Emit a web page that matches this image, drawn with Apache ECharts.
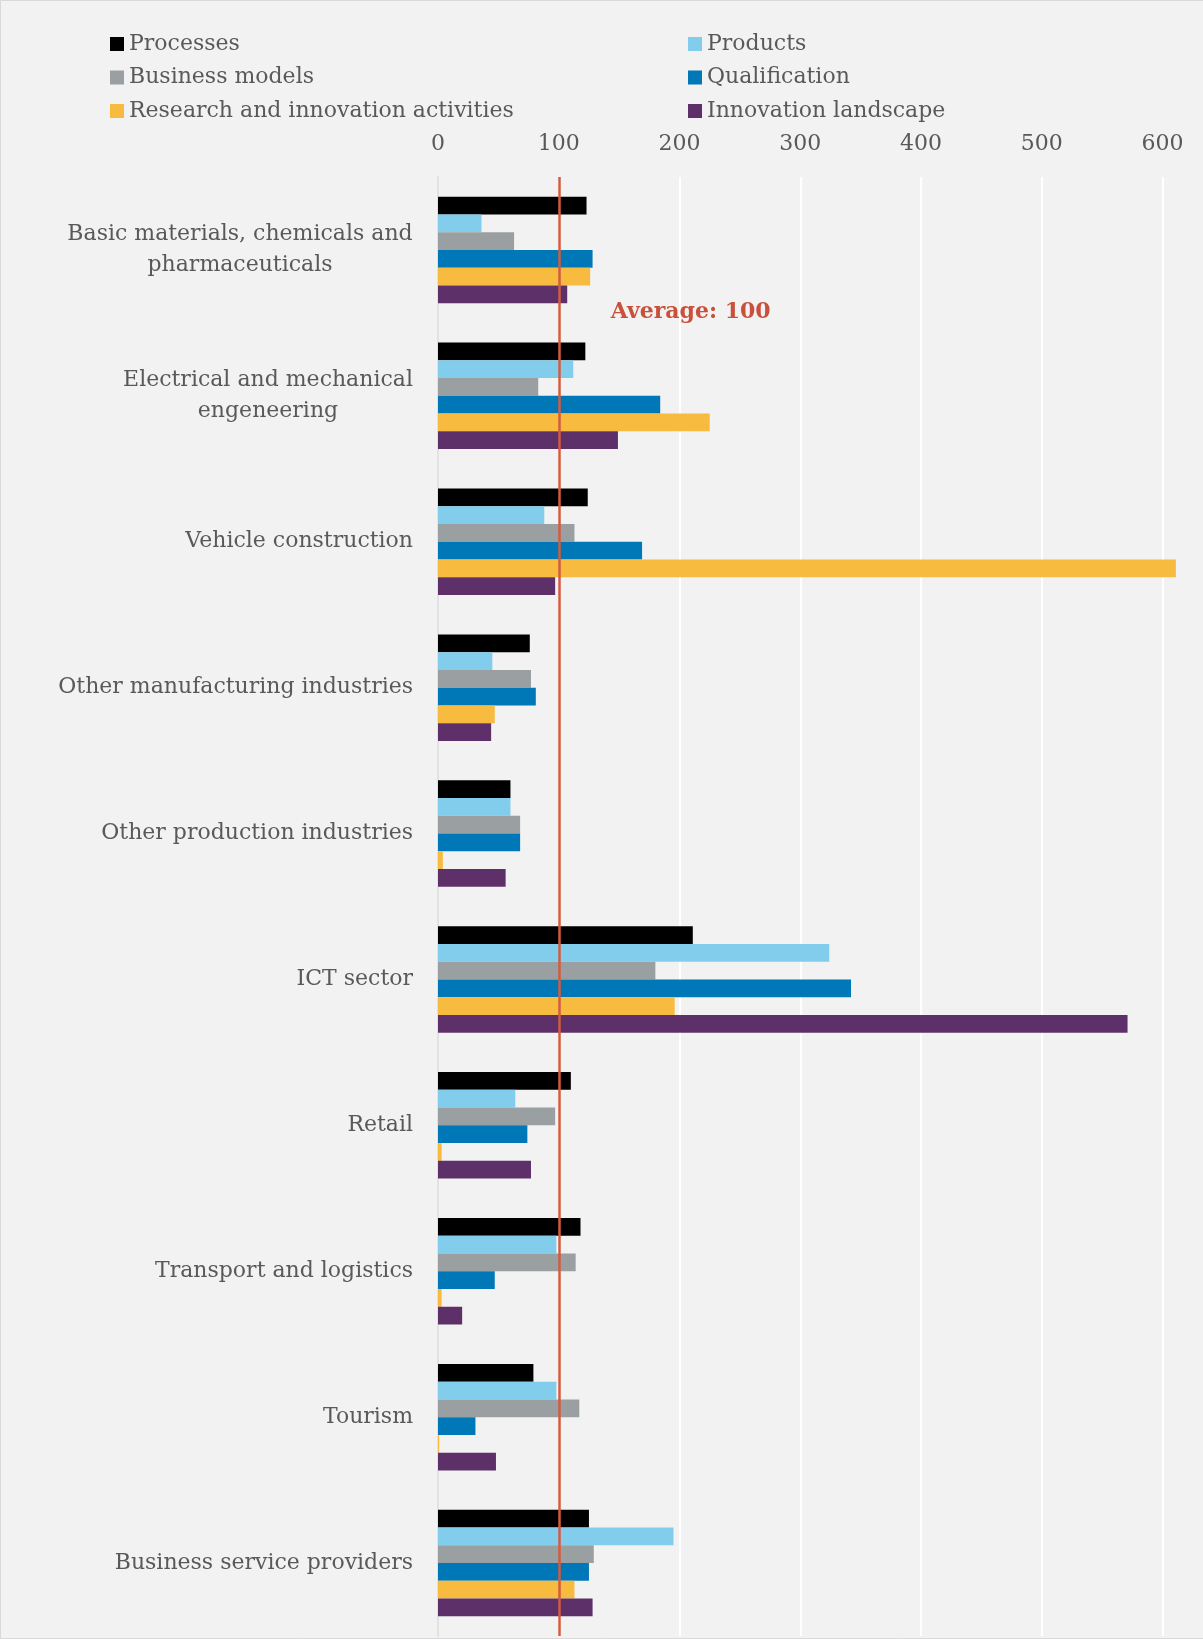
<!DOCTYPE html>
<html>
<head>
<meta charset="utf-8">
<script src="https://cdn.jsdelivr.net/npm/echarts@6/dist/echarts.min.js"></script>
<style>
html,body{margin:0;padding:0;background:#f2f2f2;}
#chart{width:1203px;height:1639px;}
</style>
</head>
<body>
<div id="chart"></div>
<script>
const categories = [
  'Basic materials, chemicals and\npharmaceuticals',
  'Electrical and mechanical\nengeneering',
  'Vehicle construction',
  'Other manufacturing industries',
  'Other production industries',
  'ICT sector',
  'Retail',
  'Transport and logistics',
  'Tourism',
  'Business service providers'
];
const seriesNames = ['Processes', 'Products', 'Business models', 'Qualification', 'Research and innovation activities', 'Innovation landscape'];
const processes = [123, 122, 124, 76, 60, 211, 110, 118, 79, 125];
const products = [36, 112, 88, 45, 60, 324, 64, 98, 98, 195];
const businessModels = [63, 83, 113, 77, 68, 180, 97, 114, 117, 129];
const qualification = [128, 184, 169, 81, 68, 342, 74, 47, 31, 125];
const research = [126, 225, 611, 47, 4, 196, 3, 3, 1, 113];
const landscape = [107, 149, 97, 44, 56, 571, 77, 20, 48, 128];
const averageValue = 100;
const averageLabel = 'Average: 100';
const xTicks = [0, 100, 200, 300, 400, 500, 600];

const colors = ['#000000', '#83cdec', '#9a9fa2', '#0077b6', '#f6bb3f', '#5e3069'];
const FONT = '"DejaVu Serif", serif';
const TEXT = '#595959';
const allData = [processes, products, businessModels, qualification, research, landscape];

// measure text for centred multi-line category labels
const cvs = document.createElement('canvas').getContext('2d');
cvs.font = '22px "DejaVu Serif"';
const rich = {};
const labelMap = {};
categories.forEach((c, i) => {
  const lines = c.split('\n');
  if (lines.length > 1) {
    const w = Math.max(...lines.map(l => cvs.measureText(l).width));
    rich['l' + i] = {width: Math.ceil(w), align: 'center', fontSize: 22, fontFamily: FONT, color: TEXT, lineHeight: 31};
    labelMap[c] = lines.map(l => '{l' + i + '|' + l + '}').join('\n');
  }
});

const chart = echarts.init(document.getElementById('chart'), null, {renderer: 'canvas'});

const series = seriesNames.map((n, i) => ({
  name: n,
  type: 'bar',
  data: allData[i],
  barGap: '0%',
  barCategoryGap: '27%',
  z: 3,
  itemStyle: {color: colors[i]}
}));
series.push({
  name: 'avg',
  type: 'line',
  data: [],
  z: 2,
  markLine: {
    silent: true,
    symbol: 'none',
    label: {show: false},
    lineStyle: {color: '#d35b3f', width: 2.5, type: 'solid'},
    data: [{xAxis: averageValue}]
  }
});

const option = {
  backgroundColor: '#f2f2f2',
  animation: false,
  textStyle: {fontFamily: FONT},
  color: colors,
  legend: [
    {
      data: [seriesNames[0], seriesNames[2], seriesNames[4]],
      orient: 'vertical', left: 105, top: 27,
      itemWidth: 14, itemHeight: 14, itemGap: 9.5, icon: 'rect',
      textStyle: {fontFamily: FONT, fontSize: 22, color: TEXT, lineHeight: 24}
    },
    {
      data: [seriesNames[1], seriesNames[3], seriesNames[5]],
      orient: 'vertical', left: 683, top: 27,
      itemWidth: 14, itemHeight: 14, itemGap: 9.5, icon: 'rect',
      textStyle: {fontFamily: FONT, fontSize: 22, color: TEXT, lineHeight: 24}
    }
  ],
  grid: {left: 438, right: 0, top: 177, bottom: 3, containLabel: false},
  xAxis: {
    type: 'value', position: 'top', min: 0, max: 631, interval: 100,
    axisLine: {show: false}, axisTick: {show: false},
    axisLabel: {
      fontFamily: FONT, fontSize: 22, color: TEXT, margin: 22,
      formatter: v => xTicks.includes(v) ? String(v) : ''
    },
    splitLine: {show: true, showMaxLine: false, lineStyle: {color: '#ffffff', width: 2}}
  },
  yAxis: {
    type: 'category', data: categories, inverse: true,
    axisLine: {show: true, lineStyle: {color: '#d9d9d9', width: 1.5}},
    axisTick: {show: false},
    axisLabel: {
      fontFamily: FONT, fontSize: 22, color: TEXT, margin: 25, lineHeight: 31,
      formatter: v => labelMap[v] || v,
      rich: rich
    }
  },
  series: series
};
chart.setOption(option);

// place the average label relative to the 100 line and the first category gap
const xp = chart.convertToPixel({xAxisIndex: 0}, averageValue);
const y0 = chart.convertToPixel({yAxisIndex: 0}, categories[0]);
const y1 = chart.convertToPixel({yAxisIndex: 0}, categories[1]);
chart.setOption({
  graphic: [
    {
      type: 'text', left: xp + 52, top: (y0 + y1) / 2 - 22,
      style: {text: averageLabel, fontFamily: FONT, fontSize: 22, fontWeight: 'bold', fill: '#c9503a'}
    },
    {
      type: 'polyline', silent: true,
      shape: {points: [[1203, 0.5], [0.5, 0.5], [0.5, 1638.5], [1203, 1638.5]]},
      style: {fill: 'none', stroke: '#d9d9d9', lineWidth: 1}
    }
  ]
});
</script>
</body>
</html>
